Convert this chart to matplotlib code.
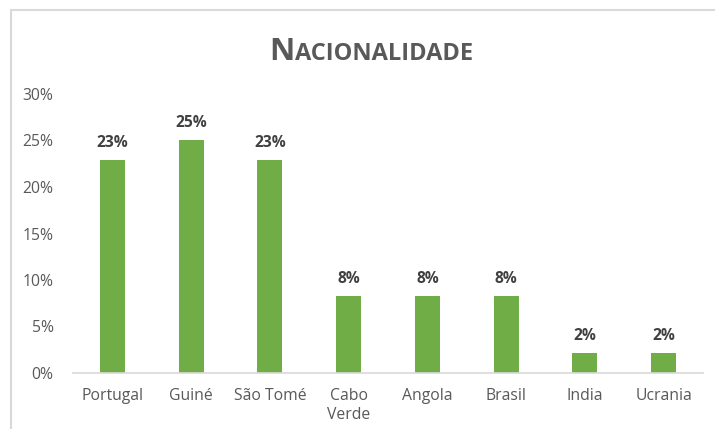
import numpy as np
import matplotlib
matplotlib.use("Agg")
import matplotlib.pyplot as plt
from matplotlib.patches import Rectangle
from matplotlib.ticker import PercentFormatter

# data (share of respondents by nationality)
categories = ["Portugal", "Guiné", "São Tomé", "Cabo\nVerde", "Angola", "Brasil", "India", "Ucrania"]
values = [22.9, 25.0, 22.9, 8.3, 8.3, 8.3, 2.1, 2.1]
labels = ["23%", "25%", "23%", "8%", "8%", "8%", "2%", "2%"]

green = "#70AD47"
grey = "#595959"
plt.rcParams['font.family'] = ['Open Sans', 'DejaVu Sans']

fig = plt.figure(figsize=(7.15, 4.29), dpi=100)
ax = fig.add_axes([73/715, 1-373/429, 630/715, (373-94)/429])

x = np.arange(len(categories))
ax.bar(x, values, width=0.32, color=green, zorder=2)
for xi, v, lab in zip(x, values, labels):
    ax.text(xi, v + 1.0, lab, ha='center', va='bottom', fontsize=11.2,
            fontweight='bold', color='#404040')

ax.set_xlim(-0.5, len(categories) - 0.5)
ax.set_ylim(0, 30)
ax.set_yticks(np.arange(0, 31, 5))
ax.yaxis.set_major_formatter(PercentFormatter(decimals=0))
ax.set_xticks(x)
ax.set_xticklabels(categories, linespacing=1.2)
ax.tick_params(axis='both', length=0, labelsize=11.3, colors=grey, pad=11)
ax.tick_params(axis='y', pad=14)
for s in ['top', 'right', 'left']:
    ax.spines[s].set_visible(False)
ax.spines['bottom'].set_color('#D9D9D9')
ax.spines['bottom'].set_linewidth(1.2)

# chart border (cut off at right/bottom in the source)
fig.patches.append(Rectangle((11/715, -0.1), 1.1, 1 - 10/429 + 0.1, transform=fig.transFigure,
                             fill=False, edgecolor='#D9D9D9', linewidth=1.5))

# small-caps style title
t1 = fig.text(0, 1 - 60/429, "N", fontsize=22.5, fontweight='bold', color=grey, va='baseline')
t2 = fig.text(0, 1 - 60/429, "ACIONALIDADE", fontsize=17, fontweight='bold', color=grey, va='baseline')
r = fig.canvas.get_renderer()
w1 = t1.get_window_extent(r).width / fig.bbox.width
w2 = t2.get_window_extent(r).width / fig.bbox.width
x0 = 371/715 - (w1 + w2) / 2
t1.set_x(x0)
t2.set_x(x0 + w1)

fig.savefig("out.png", dpi=100)
